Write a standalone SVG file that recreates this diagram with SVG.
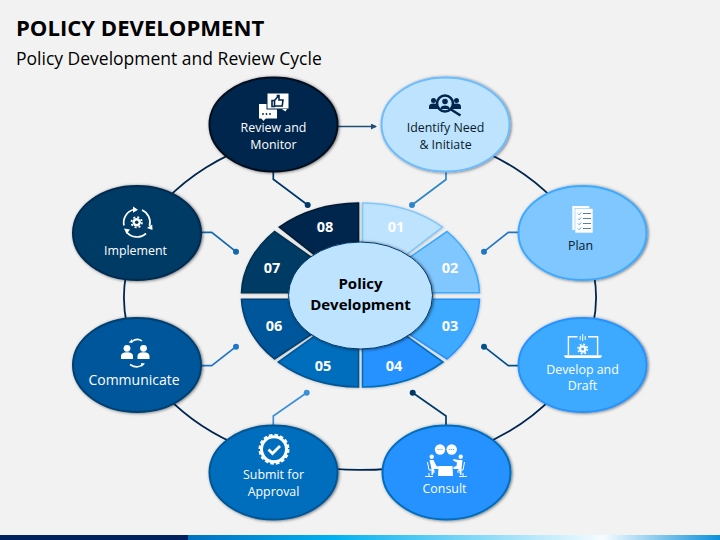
<svg xmlns="http://www.w3.org/2000/svg" width="720" height="540" viewBox="0 0 720 540">
<style>
text{font-family:"Open Sans","Noto Sans","Liberation Sans",sans-serif;text-anchor:middle}
.lbl{font-size:12.4px;font-weight:500;fill:#fff}
.dk{fill:#0a1a2a}
.num{font-size:14.500px;font-weight:700;fill:#fff}
.node{stroke-width:2;filter:url(#sh)}
.seg{stroke-width:1.6;filter:url(#sh2)}
.ring{fill:none;stroke:#00264d;stroke-width:1.8}
.lead{fill:none;stroke-width:1.7}
.w{fill:#fff}
.wl{fill:none;stroke:#fff;stroke-linecap:butt}
</style>
<defs>
<filter id="sh" x="-20%" y="-20%" width="140%" height="140%"><feDropShadow dx="1" dy="0.5" stdDeviation="1.8" flood-color="#000" flood-opacity="0.55"/></filter>
<filter id="sh2" x="-20%" y="-20%" width="140%" height="140%"><feDropShadow dx="0.5" dy="0.5" stdDeviation="0.8" flood-color="#000" flood-opacity="0.25"/></filter>
<linearGradient id="bar" x1="188" y1="0" x2="720" y2="0" gradientUnits="userSpaceOnUse">
<stop offset="0" stop-color="#0070c0"/><stop offset="0.27" stop-color="#00b0f0"/><stop offset="0.78" stop-color="#f6fcff"/><stop offset="1" stop-color="#0a90dc"/>
</linearGradient>
<marker id="arr" markerWidth="7" markerHeight="7" refX="5" refY="3" orient="auto" markerUnits="userSpaceOnUse"><path d="M0 0L6 3L0 6Z" fill="#1f4e79"/></marker>
</defs>
<rect width="720" height="540" fill="#f2f2f2"/>
<rect x="0" y="535" width="188" height="5" fill="#002060"/>
<rect x="188" y="535" width="532" height="5" fill="url(#bar)"/>
<text x="16" y="36" style="text-anchor:start;font-size:22.100px;font-weight:700;fill:#000">POLICY DEVELOPMENT</text>
<text x="16" y="65" style="text-anchor:start;font-size:17.500px;fill:#000">Policy Development and Review Cycle</text>

<g id="connectors">
<path class="ring" d="M420 131.6A236 172 0 1 1 300 131.6"/>
<path d="M338 126.5H376" fill="none" stroke="#1f4e79" stroke-width="1.6" marker-end="url(#arr)"/>
<g class="lead" stroke="#00386a"><path d="M273.3 172V179.3L307.7 205"/></g><circle cx="307.7" cy="205" r="3" fill="#00386a"/>
<g class="lead" stroke="#2e86c8"><path d="M446 172V179.5L412 205"/></g><circle cx="412" cy="205" r="3" fill="#2e86c8"/>
<g class="lead" stroke="#0f68ae"><path d="M201 232.3H211.7L236 251.7"/></g><circle cx="236" cy="251.7" r="3" fill="#0f68ae"/>
<g class="lead" stroke="#2076c4"><path d="M518 232.3H508.3L484 251.7"/></g><circle cx="484" cy="251.7" r="3" fill="#2076c4"/>
<g class="lead" stroke="#00508c"><path d="M518 365.7H508.3L484 346.7"/></g><circle cx="484" cy="346.7" r="3" fill="#00508c"/>
<g class="lead" stroke="#2076c4"><path d="M201 365.7H211.7L236 346.7"/></g><circle cx="236" cy="346.7" r="3" fill="#2076c4"/>
<g class="lead" stroke="#3d90d8"><path d="M273.3 425V416L306.7 392.7"/></g><circle cx="306.7" cy="392.7" r="3" fill="#3d90d8"/>
<g class="lead" stroke="#003a66"><path d="M446 425V416L412.7 392.7"/></g><circle cx="412.7" cy="392.7" r="3" fill="#003a66"/>
</g>

<g id="seg-08"><path class="seg" fill="#00264d" stroke="#001a33" d="M358.5 203A119.5 92.5 0 0 0 279.3 227.1L316 256H358.5Z"/><text class="num" x="325" y="232">08</text></g>
<g id="seg-07"><path class="seg" fill="#003a66" stroke="#00304f" d="M274.5 231.5A119.5 92.5 0 0 0 241.5 292.7H300L318 262Z"/><text class="num" x="272" y="273">07</text></g>
<g id="seg-06"><path class="seg" fill="#00569a" stroke="#003f70" d="M241.5 299.3A119.5 92.5 0 0 0 274.5 359L318 330L300 299.3Z"/><text class="num" x="274" y="331">06</text></g>
<g id="seg-05"><path class="seg" fill="#006ebc" stroke="#005696" d="M278.3 362A119.5 92.5 0 0 0 358.5 387V335H316Z"/><text class="num" x="323" y="371">05</text></g>
<g id="seg-04"><path class="seg" fill="#2892ff" stroke="#006ebc" d="M362.5 387A119.5 92.5 0 0 0 443 362L405 335H362.5Z"/><text class="num" x="394" y="371">04</text></g>
<g id="seg-03"><path class="seg" fill="#3daaff" stroke="#2892ff" d="M479.5 299.3A119.5 92.5 0 0 1 447 359L403 330L420 299.3Z"/><text class="num" x="450" y="331">03</text></g>
<g id="seg-02"><path class="seg" fill="#80c6ff" stroke="#3daaff" d="M447 231.5A119.5 92.5 0 0 1 479.5 292.7H420L403 262Z"/><text class="num" x="450" y="273">02</text></g>
<g id="seg-01"><path class="seg" fill="#bde3ff" stroke="#80c6ff" d="M362.5 203A119.5 92.5 0 0 1 442.5 227.1L405 256H362.5Z"/><text class="num" x="396" y="232">01</text></g>

<g id="center"><ellipse cx="360.5" cy="295.5" rx="72" ry="53.5" fill="#bde3ff" stroke="#00386a" stroke-width="1" filter="url(#sh)"/>
<text x="360.5" y="289" style="font-size:15px;font-weight:700;fill:#000">Policy</text><text x="360.5" y="310" style="font-size:15px;font-weight:700;fill:#000">Development</text></g>

<g id="review"><ellipse class="node" cx="273.5" cy="124.5" rx="64" ry="47" fill="#00264d" stroke="#00101f"/>
<rect x="259" y="104" width="18" height="14.5" class="w"/><path class="w" d="M261 118h5l-2.500 3z"/>
<rect x="267" y="93" width="22" height="16" class="w" stroke="#00264d" stroke-width="1"/><path class="w" d="M282 109h5l-1.500 2.500z"/>
<path fill="none" stroke="#00264d" stroke-width="1.600" d="M272 100.500h2.500v6h-2.500zM274.500 100.500l3-3.500v-1.500h1.500v4.500h4l-.8 6h-7.700"/>
<g fill="#00264d"><circle cx="263" cy="114" r=".9"/><circle cx="266.500" cy="114" r=".9"/><circle cx="270" cy="114" r=".9"/></g>
<text class="lbl" x="273.500" y="132">Review and</text><text class="lbl" x="273.500" y="149">Monitor</text></g>

<g id="identify"><ellipse class="node" cx="445.500" cy="124.500" rx="64" ry="47" fill="#bde3ff" stroke="#6cbcff"/>
<g fill="#00264d"><circle cx="433.500" cy="100.500" r="2.500"/><path d="M429 109v-2.500q0-3 4.500-3t4.500 3v2.500z"/><circle cx="456.500" cy="100.500" r="2.500"/><path d="M452 109v-2.500q0-3 4.500-3t4.500 3v2.500z"/></g>
<circle cx="445" cy="103.500" r="8" fill="#bde3ff" stroke="#00264d" stroke-width="2.600"/>
<g fill="#00264d"><circle cx="445" cy="101.500" r="2.800"/><path d="M440.300 109c0-4.600 9.400-4.600 9.400 0z"/></g>
<path d="M451 109.500L460.500 115.500" stroke="#00264d" stroke-width="2.600"/>
<text class="lbl dk" x="445.500" y="132">Identify Need</text><text class="lbl dk" x="445.500" y="149">&amp; Initiate</text></g>

<g id="plan"><ellipse class="node" cx="582.500" cy="233" rx="64" ry="47" fill="#80c6ff" stroke="#3daaff"/>
<rect x="572.300" y="206" width="17" height="24" class="w"/><rect x="575" y="208.500" width="18" height="24.500" class="w" stroke="#80c6ff" stroke-width=".6"/>
<path d="M578 213.500l1.200 1.200 2-2.200M578 218.500l1.200 1.200 2-2.200M578 223.500l1.200 1.200 2-2.200M578 228.500l1.200 1.200 2-2.200" fill="none" stroke="#3daaff" stroke-width="1"/>
<path d="M583 213.500h8M583 218.500h8M583 223.500h8M583 228.500h8" stroke="#5a7fa0" stroke-width="1"/>
<text class="lbl dk" x="580.500" y="250">Plan</text></g>

<g id="develop"><ellipse class="node" cx="582.500" cy="365" rx="64" ry="47" fill="#3daaff" stroke="#2892ff"/>
<path class="wl" stroke-width="1.400" d="M577.500 336.700H568.400V355M588 336.700H597.600V355"/><path class="w" d="M564.300 355.200H601.700V356.500Q601 358 599 358H567Q565 358 564.300 356.500Z"/>
<path class="wl" stroke-width="1" d="M582.700 334V341M580.200 336V340M585.200 336V340"/>
<circle cx="582.700" cy="349" r="3.800" class="w"/><circle cx="582.700" cy="349" r="4.700" fill="none" stroke="#fff" stroke-width="1.600" stroke-dasharray="1.800 1.900"/><circle cx="582.700" cy="349" r="1.500" fill="#3daaff"/>
<text class="lbl" x="582.500" y="374">Develop and</text><text class="lbl" x="582.500" y="390">Draft</text></g>

<g id="consult"><ellipse class="node" cx="446.500" cy="472.500" rx="64" ry="47" fill="#2892ff" stroke="#006ebc"/>
<circle cx="440" cy="449.500" r="5.200" class="w"/><circle cx="451.700" cy="449.500" r="5.200" class="w"/>
<g fill="#2892ff"><circle cx="438" cy="449.500" r=".6"/><circle cx="440" cy="449.500" r=".6"/><circle cx="442" cy="449.500" r=".6"/><circle cx="449.700" cy="449.500" r=".6"/><circle cx="451.700" cy="449.500" r=".6"/><circle cx="453.700" cy="449.500" r=".6"/></g>
<circle cx="431.700" cy="456.700" r="2.200" class="w"/><circle cx="460.700" cy="456.700" r="2.200" class="w"/>
<path class="w" d="M429.500 460h4l3 6 3 1v2h-5.500l-1 6h-1.500v-6zM462.500 460h-4l-5 -1-.5 1.500 4 2-.5 3.500-3 1v2h5.500l1 6h1.500v-6z"/>
<path class="w" d="M438.500 466h14l.5 10h-15z"/>
<path class="wl" stroke-width="1" d="M427.500 462l1.500 8h5v3M425 476.500h8M429 473v3.500M464.500 462l-1.500 8h-5v3M467 476.500h-8M463 473v3.500"/>
<text class="lbl" x="444.500" y="493">Consult</text></g>

<g id="submit"><ellipse class="node" cx="273.500" cy="472.500" rx="64" ry="47" fill="#006ebc" stroke="#005696"/>
<circle cx="274" cy="449.300" r="14" class="w"/><circle cx="274" cy="449.300" r="14.500" fill="none" stroke="#fff" stroke-width="2" stroke-dasharray="3.600 2.100"/>
<circle cx="274" cy="449.300" r="11" fill="#006ebc"/><path d="M268.500 449.500l4 4 7.500-7.500" fill="none" stroke="#fff" stroke-width="2.800"/>
<text class="lbl" x="273.500" y="479">Submit for</text><text class="lbl" x="273.500" y="496">Approval</text></g>

<g id="communicate"><ellipse class="node" cx="137" cy="365" rx="64" ry="47" fill="#00569a" stroke="#003f70"/>
<circle cx="127" cy="348.300" r="3.400" class="w"/><circle cx="143.500" cy="348.300" r="3.400" class="w"/>
<path class="w" d="M121 359v-3q0-3.800 6-3.800t6 3.800v3zM137.500 359v-3q0-3.800 6-3.800t6 3.800v3z"/>
<path class="wl" stroke-width="1.500" d="M132 341.500Q137 337.500 142 341M130 364.500Q137 369 142 365"/><path class="w" d="M128.700 342.500l3.300-3.500.5 4zM145 363.500l-3.500 3.500-.500-4z"/>
<text x="134" y="385" style="font-size:14px;font-weight:500;fill:#fff">Communicate</text></g>

<g id="implement"><ellipse class="node" cx="137" cy="233" rx="64" ry="47" fill="#003a66" stroke="#002c50"/>
<path class="wl" stroke-width="1.700" d="M124 225.500A13.500 13.500 0 0 1 134 209.500M142 210A13.500 13.500 0 0 1 149.500 226M146 233.500A13.500 13.500 0 0 1 126.500 232"/>
<path class="w" d="M133 206.500l5 3.300-5 3zM147 228l5.200-3.500.3 5.500zM124 228.500l6 1-3.500 4.500z"/>
<circle cx="136.700" cy="222.300" r="4.200" class="w"/><circle cx="136.700" cy="222.300" r="5.200" fill="none" stroke="#fff" stroke-width="1.800" stroke-dasharray="2 2.080"/><circle cx="136.700" cy="222.300" r="1.800" fill="#003a66"/>
<text class="lbl" x="135.500" y="255">Implement</text></g>
</svg>
